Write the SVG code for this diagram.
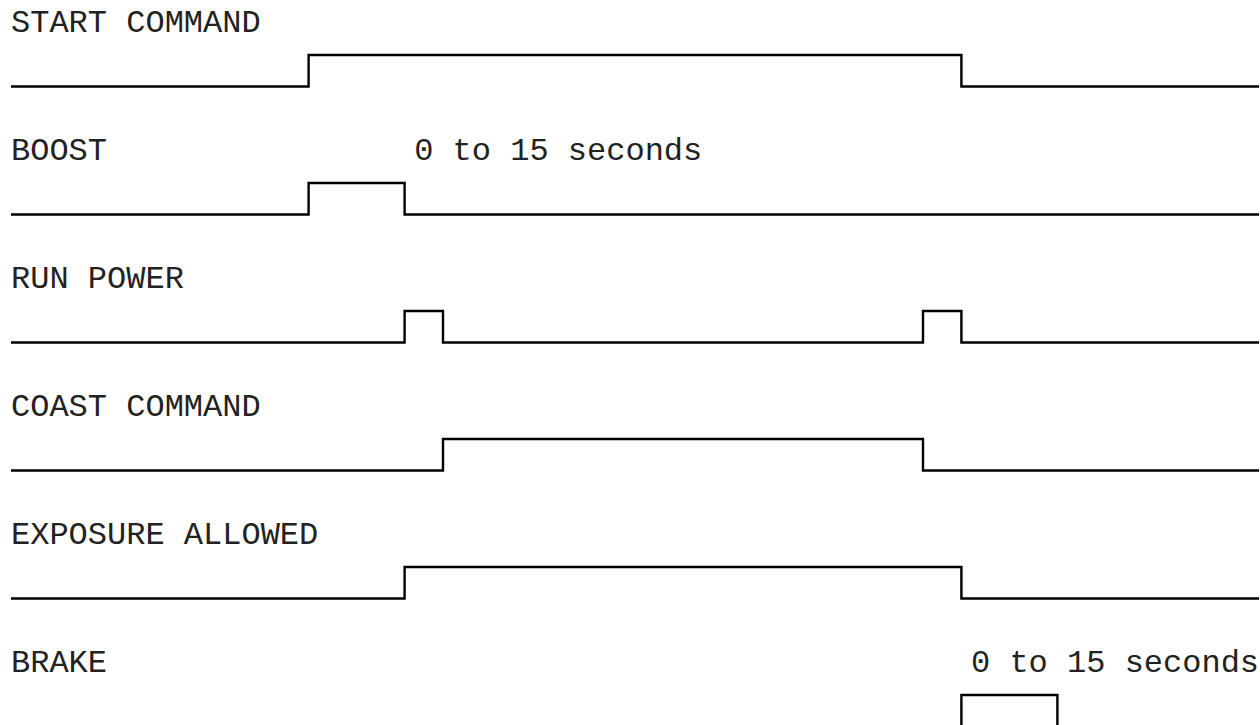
<svg xmlns="http://www.w3.org/2000/svg" width="1260" height="725" viewBox="0 0 1260 725">
  <style>
    text { font-family: "Liberation Mono", "Courier New", monospace; font-size: 32px; fill: #222; }
    .wave { fill: none; stroke: #000; stroke-width: 2.4; stroke-linejoin: miter; stroke-linecap: butt; }
  </style>
  <rect width="1260" height="725" fill="#fff"/>
  <g id="start-command">
    <text x="11" y="31.7">START COMMAND</text>
    <path class="wave" d="M11,86.5 H308.6 V55 H961.4 V86.5 H1259"/>
  </g>
  <g id="boost">
    <text x="11" y="159.7">BOOST</text>
    <text x="414.2" y="159.7">0 to 15 seconds</text>
    <path class="wave" d="M11,214.5 H308.6 V183 H404.6 V214.5 H1259"/>
  </g>
  <g id="run-power">
    <text x="11" y="287.7">RUN POWER</text>
    <path class="wave" d="M11,342.5 H404.6 V311 H443 V342.5 H923 V311 H961.4 V342.5 H1259"/>
  </g>
  <g id="coast-command">
    <text x="11" y="415.7">COAST COMMAND</text>
    <path class="wave" d="M11,470.5 H443 V439 H923 V470.5 H1259"/>
  </g>
  <g id="exposure-allowed">
    <text x="11" y="543.7">EXPOSURE ALLOWED</text>
    <path class="wave" d="M11,598.5 H404.6 V567 H961.4 V598.5 H1259"/>
  </g>
  <g id="brake">
    <text x="11" y="671.7">BRAKE</text>
    <text x="971" y="671.7">0 to 15 seconds</text>
    <path class="wave" d="M961.4,730 V695 H1057.4 V730"/>
  </g>
</svg>
